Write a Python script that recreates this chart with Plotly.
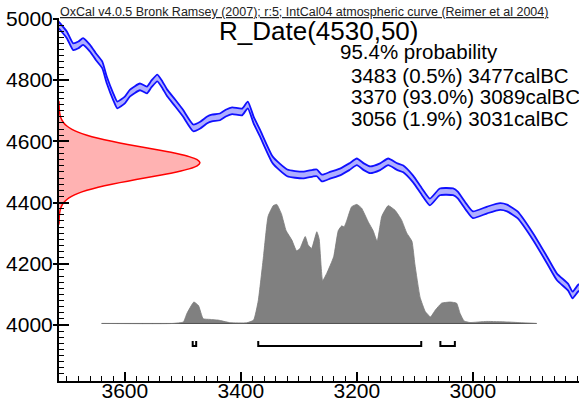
import plotly.graph_objects as go

# ---------------- data ----------------
# IntCal04 calibration curve (cal BC, radiocarbon BP, 1-sigma error)
cal_year = [3714, 3700, 3689, 3680, 3672, 3660, 3650, 3639, 3631, 3620, 3613, 3600,
            3591, 3574, 3562, 3554, 3544, 3535, 3527, 3513, 3500, 3482, 3470, 3458,
            3450, 3436, 3426, 3415, 3398, 3388, 3378, 3367, 3345, 3320, 3293, 3276,
            3269, 3260, 3245, 3229, 3213, 3200, 3188, 3177, 3160, 3146, 3130, 3120,
            3103, 3088, 3074, 3057, 3034, 3026, 3012, 3000, 2975, 2953, 2941, 2923,
            2896, 2872, 2855, 2836, 2828, 2818, 2805]
cal_bp = [4980, 4948, 4909, 4915, 4926, 4904, 4877, 4850, 4800, 4746, 4719, 4735,
          4758, 4778, 4768, 4788, 4807, 4784, 4758, 4725, 4693, 4644, 4653, 4670,
          4676, 4680, 4692, 4700, 4696, 4719, 4670, 4627, 4539, 4497, 4490, 4496,
          4497, 4480, 4490, 4500, 4517, 4533, 4517, 4507, 4517, 4533, 4517, 4510,
          4477, 4436, 4402, 4435, 4435, 4425, 4387, 4360, 4376, 4387, 4382, 4360,
          4288, 4212, 4157, 4124, 4098, 4121, 4130]
cal_err = [11, 11, 11, 11, 11, 11, 11, 11, 11, 11, 11, 11,
           11, 11, 11, 11, 11, 11, 11, 11, 11, 11, 11, 11,
           11, 11, 11, 11, 11, 11, 11, 11, 11, 11, 11, 11,
           11, 11, 11, 11, 11, 11, 11, 11, 11, 11, 11, 11,
           11, 11, 11, 11, 11, 11, 11, 11, 11, 11, 11, 11,
           11, 11, 11, 11, 11, 11, 11]

# Radiocarbon measurement R_Date(4530,50): BP values and relative probability
rdate_bp = [4330, 4340, 4350, 4360, 4370, 4380, 4390, 4400, 4410, 4420, 4430,
            4440, 4450, 4460, 4470, 4480, 4490, 4500, 4510, 4520, 4530, 4540,
            4550, 4560, 4570, 4580, 4590, 4600, 4610, 4620, 4630, 4640, 4650,
            4660, 4670, 4680, 4690, 4700, 4710, 4720, 4730]
rdate_prob = [0.0003, 0.0007, 0.0015, 0.003, 0.006, 0.011, 0.020, 0.034, 0.056, 0.089, 0.135,
              0.198, 0.278, 0.375, 0.487, 0.607, 0.726, 0.835, 0.923, 0.980, 1.000, 0.980,
              0.923, 0.835, 0.726, 0.607, 0.487, 0.375, 0.278, 0.198, 0.135, 0.089, 0.056,
              0.034, 0.020, 0.011, 0.006, 0.003, 0.0015, 0.0007, 0.0003]

# Calibrated probability distribution (cal BC, relative probability)
post_year = [3640, 3517, 3499, 3493, 3481, 3473, 3465, 3453, 3439, 3419, 3390, 3378,
             3370, 3361, 3353, 3344, 3338, 3330, 3322, 3312, 3304, 3298, 3289, 3284,
             3278, 3269, 3265, 3259, 3252, 3240, 3232, 3226, 3222, 3217, 3209, 3200,
             3192, 3180, 3172, 3165, 3157, 3146, 3134, 3123, 3114, 3105, 3100, 3091,
             3082, 3073, 3065, 3054, 3039, 3028, 3022, 3015, 3005, 2976, 2942, 2919, 2890]
post_prob = [0.0, 0.0, 0.013, 0.084, 0.18, 0.15, 0.04, 0.034, 0.028, 0.007, 0.005, 0.028,
             0.19, 0.56, 0.90, 0.99, 1.0, 0.92, 0.78, 0.70, 0.61, 0.63, 0.73, 0.66,
             0.63, 0.77, 0.71, 0.36, 0.42, 0.56, 0.78, 0.82, 0.81, 0.87, 0.98, 1.0,
             0.97, 0.85, 0.78, 0.69, 0.90, 0.99, 0.95, 0.87, 0.76, 0.69, 0.50, 0.22,
             0.10, 0.055, 0.11, 0.17, 0.18, 0.17, 0.084, 0.02, 0.008, 0.017, 0.013, 0.007, 0.0]

# 95.4% ranges (cal BC)
range_from = [3483, 3370, 3056]
range_to = [3477, 3089, 3031]
range_pct = ["0.5%", "93.0%", "1.9%"]

x_ticks = [3600, 3400, 3200, 3000]
x_ticklabels = ["3600", "3400", "3200", "3000"]
y_ticks = [4000, 4200, 4400, 4600, 4800, 5000]
y_ticklabels = ["4000", "4200", "4400", "4600", "4800", "5000"]

title_text = "R_Date(4530,50)"
prob_header = "95.4% probability"
credit = "OxCal v4.0.5 Bronk Ramsey (2007); r:5; IntCal04 atmospheric curve (Reimer et al 2004)"

# ---------------- figure ----------------
X_RANGE = [3713.5, 2817]
Y_RANGE = [3817, 5003]
FONT = "Liberation Sans, Arial, sans-serif"

fig = go.Figure()

# calibrated distribution (grey)
post_base = 4005
post_scale = 389
fig.add_trace(go.Scatter(x=post_year, y=[post_base] * len(post_year), mode="lines",
                         line=dict(color="#505050", width=1), hoverinfo="skip"))
fig.add_trace(go.Scatter(x=post_year, y=[post_base + post_scale * p for p in post_prob],
                         mode="lines", fill="tonexty", fillcolor="#808080",
                         line=dict(color="#7a7a7a", width=0.8, shape="spline", smoothing=0.4),
                         hoverinfo="skip"))

# calibration curve band
lower = [b - e for b, e in zip(cal_bp, cal_err)]
upper = [b + e for b, e in zip(cal_bp, cal_err)]
fig.add_trace(go.Scatter(x=cal_year, y=lower, mode="lines",
                         line=dict(color="#1010ff", width=1.8, shape="spline", smoothing=0.5),
                         hoverinfo="skip"))
fig.add_trace(go.Scatter(x=cal_year, y=upper, mode="lines", fill="tonexty",
                         fillcolor="rgba(110,110,255,0.55)",
                         line=dict(color="#1010ff", width=1.8, shape="spline", smoothing=0.5),
                         hoverinfo="skip"))

# radiocarbon measurement (red, on y axis)
amp = 243
base_x = X_RANGE[0]
rx = [base_x - amp * p for p in rdate_prob]
fig.add_trace(go.Scatter(x=[base_x] + rx + [base_x],
                         y=[rdate_bp[0]] + rdate_bp + [rdate_bp[-1]],
                         mode="lines", fill="toself", fillcolor="rgba(255,0,0,0.3)",
                         line=dict(color="#ff0000", width=1.5, shape="spline", smoothing=0.6),
                         hoverinfo="skip"))

# range brackets
br_low, br_high = 3931, 3948
for a, b in zip(range_from, range_to):
    fig.add_trace(go.Scatter(x=[a, a, b, b], y=[br_high, br_low, br_low, br_high],
                             mode="lines", line=dict(color="black", width=2),
                             hoverinfo="skip"))

# ---------- annotations ----------
def px(xp):
    return (xp - 59) / 520.0

def py(yp):
    return (381 - yp) / 363.0

ann = []
ann.append(dict(text="<u>" + credit + "</u>", x=px(58), y=py(12), xref="paper", yref="paper",
                xanchor="left", yanchor="middle", showarrow=False,
                font=dict(family=FONT, size=12.5, color="#222")))
ann.append(dict(text=title_text, x=px(318), y=py(31), xref="paper", yref="paper",
                xanchor="center", yanchor="middle", showarrow=False,
                font=dict(family=FONT, size=26, color="black")))
ann.append(dict(text=prob_header, x=px(338), y=py(52), xref="paper", yref="paper",
                xanchor="left", yanchor="middle", showarrow=False,
                font=dict(family=FONT, size=20.5, color="black")))
line_y = [75, 96.5, 118.5]
for a, b, pc, yy in zip(range_from, range_to, range_pct, line_y):
    ann.append(dict(text=f"{a} ({pc}) {b}calBC", x=px(349), y=py(yy), xref="paper", yref="paper",
                    xanchor="left", yanchor="middle", showarrow=False,
                    font=dict(family=FONT, size=20.5, color="black")))

fig.update_layout(
    width=579, height=404,
    margin=dict(l=59, r=0, t=18, b=23, pad=0, autoexpand=False),
    paper_bgcolor="white", plot_bgcolor="white",
    showlegend=False,
    annotations=ann,
    xaxis=dict(range=X_RANGE, tickmode="array", tickvals=x_ticks, ticktext=x_ticklabels,
               ticks="inside", ticklen=9, tickwidth=2, tickcolor="black",
               showline=True, linewidth=2, linecolor="black",
               showgrid=False, zeroline=False, automargin=False,
               ticklabelstandoff=-10,
               minor=dict(ticks="inside", ticklen=5, tickwidth=1, tickcolor="black",
                          tick0=3000, dtick=20, showgrid=False),
               tickfont=dict(family=FONT, size=21, color="black")),
    yaxis=dict(range=Y_RANGE, tickmode="array", tickvals=y_ticks, ticktext=y_ticklabels,
               ticks="inside", ticklen=10, tickwidth=2, tickcolor="black",
               showline=True, linewidth=2, linecolor="black",
               showgrid=False, zeroline=False, automargin=False,
               minor=dict(ticks="inside", ticklen=5, tickwidth=1, tickcolor="black",
                          tick0=4000, dtick=20, showgrid=False),
               tickfont=dict(family=FONT, size=21, color="black")),
    yaxis2=dict(range=Y_RANGE, overlaying="y", side="left", tickmode="array",
                tickvals=y_ticks, ticks="outside", ticklen=5, tickwidth=2,
                tickcolor="black", showticklabels=False, showline=False,
                showgrid=False, zeroline=False, automargin=False),
)
# invisible trace to activate the outer-tick axis
fig.add_trace(go.Scatter(x=[X_RANGE[0]], y=[Y_RANGE[0]], yaxis="y2", mode="markers",
                         marker=dict(opacity=0), hoverinfo="skip"))

fig.write_html("out.html", config={"displayModeBar": False},
               post_script="document.body.style.margin='0';document.body.style.overflow='hidden';")
